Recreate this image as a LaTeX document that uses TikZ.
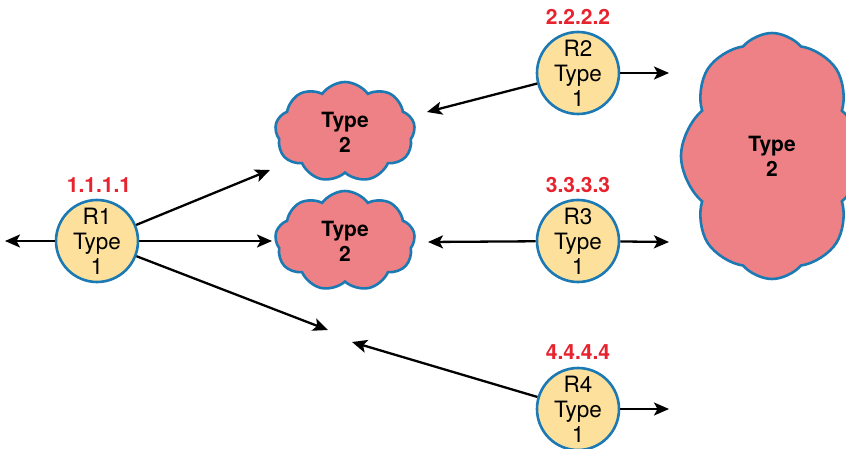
\documentclass[tikz,border=0pt]{standalone}
\usepackage{fontspec}
\setmainfont{TeX Gyre Heros}
\usetikzlibrary{shapes.symbols,arrows.meta}
\definecolor{rfill}{HTML}{FCE09B}
\definecolor{rline}{HTML}{1B79B3}
\definecolor{cfill}{HTML}{EE8185}
\definecolor{lred}{HTML}{E6232E}
\tikzset{
  router/.style={circle,draw=rline,line width=2.6pt,fill=rfill,minimum size=82pt,inner sep=0pt,align=center,font=\fontsize{22.5}{25}\selectfont},
  cloudbox/.style={cloud,draw=rline,line width=2.6pt,fill=cfill,cloud ignores aspect,align=center,font=\fontsize{21}{25}\selectfont\bfseries,inner sep=0pt},
  rid/.style={text=lred,font=\fontsize{21}{22}\selectfont\bfseries},
  link/.style={line width=2.3pt,-{Stealth[length=15pt,width=13pt,inset=3.5pt]}}
}
\begin{document}
\begin{tikzpicture}[x=1pt,y=-1pt]
\useasboundingbox (0,0) rectangle (846,449);
\node[router] (r1) at (97,241) {R1\\Type\\1};
\node[router] (r2) at (578,73) {R2\\Type\\1};
\node[router] (r3) at (578,241) {R3\\Type\\1};
\node[router] (r4) at (578,409) {R4\\Type\\1};
\node[rid] (l1) at (99,185) {1.1.1.1};
\node[rid] (l2) at (578,17) {2.2.2.2};
\node[rid] (l3) at (578,185) {3.3.3.3};
\node[rid] (l4) at (578,352) {4.4.4.4};
\node[cloudbox,cloud puffs=9,cloud puff arc=110,minimum width=140pt,minimum height=100pt] (c1) at (345,132) {Type\\2};
\node[cloudbox,cloud puffs=9,cloud puff arc=110,minimum width=140pt,minimum height=100pt] (c2) at (345,241) {Type\\2};
\node[cloudbox,cloud puffs=8,cloud puff arc=100,minimum width=182pt,minimum height=246pt] (c3) at (772,156) {Type\\2};
\coordinate (w1) at (5,241);
\coordinate (a1) at (270,170);
\coordinate (a2) at (272,241);
\coordinate (a3) at (328,330);
\coordinate (b1) at (427,112);
\coordinate (b2) at (669,73);
\coordinate (b3) at (428,242);
\coordinate (b4) at (669,242);
\coordinate (b5) at (352,342);
\coordinate (b6) at (669,409);
\draw[link] (r1) -- (w1);
\draw[link] (r1) -- (a1);
\draw[link] (r1) -- (a2);
\draw[link] (r1) -- (a3);
\draw[link] (r2) -- (b1);
\draw[link] (r2) -- (b2);
\draw[link] (r3) -- (b3);
\draw[link] (r3) -- (b4);
\draw[link] (r4) -- (b5);
\draw[link] (r4) -- (b6);
\end{tikzpicture}
\end{document}
